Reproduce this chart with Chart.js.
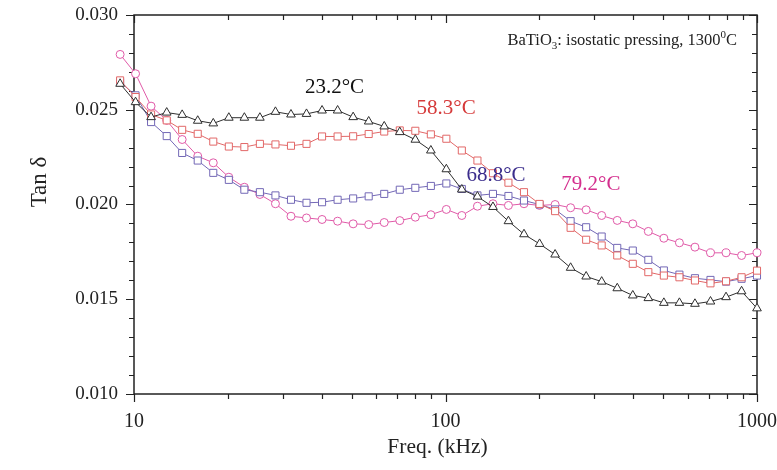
<!DOCTYPE html>
<html>
<head>
<meta charset="utf-8">
<title>Tan delta vs frequency</title>
<script src="https://cdn.jsdelivr.net/npm/chart.js@4.4.1/dist/chart.umd.min.js"></script>
<style>
  html, body { margin: 0; padding: 0; background: #fff; }
  #wrap { width: 777px; height: 470px; }
</style>
</head>
<body>
<div id="wrap"><canvas id="myChart" width="777" height="470"></canvas></div>
<script>
// frequency points (kHz)
const freqs = [9.02, 10.11, 11.34, 12.73, 14.27, 16.01, 17.96, 20.15, 22.60, 25.35,
  28.44, 31.90, 35.78, 40.14, 45.03, 50.51, 56.66, 63.56, 71.30, 79.98,
  89.72, 100.6, 112.8, 126.6, 142.0, 159.2, 178.6, 200.4, 224.8, 252.1,
  282.8, 317.2, 355.9, 399.2, 447.8, 502.3, 563.5, 632.1, 709.0, 795.4, 892.3, 1000];

const tan232 = [0.02637, 0.02540, 0.02461, 0.02485, 0.02473, 0.02442, 0.02428, 0.02458, 0.02458, 0.02458,
  0.02489, 0.02475, 0.02478, 0.02496, 0.02496, 0.02461, 0.02438, 0.02412, 0.02382, 0.02342,
  0.02285, 0.02186, 0.02079, 0.02042, 0.01987, 0.01912, 0.01843, 0.01792, 0.01736, 0.01666,
  0.01620, 0.01593, 0.01558, 0.01520, 0.01506, 0.01481, 0.01481, 0.01476, 0.01488, 0.01511, 0.01542, 0.01452];

const tan583 = [0.02655, 0.02567, 0.02475, 0.02444, 0.02394, 0.02373, 0.02332, 0.02306, 0.02303, 0.02320,
  0.02317, 0.02310, 0.02320, 0.02359, 0.02359, 0.02360, 0.02372, 0.02385, 0.02391, 0.02389,
  0.02370, 0.02347, 0.02285, 0.02232, 0.02165, 0.02115, 0.02065, 0.02003, 0.01965, 0.01877,
  0.01814, 0.01784, 0.01731, 0.01687, 0.01643, 0.01625, 0.01616, 0.01599, 0.01584, 0.01595, 0.01616, 0.01651];

const tan688 = [0.02646, 0.02576, 0.02435, 0.02361, 0.02272, 0.02232, 0.02167, 0.02130, 0.02078, 0.02065,
  0.02048, 0.02025, 0.02009, 0.02012, 0.02025, 0.02032, 0.02043, 0.02056, 0.02078, 0.02088,
  0.02098, 0.02111, 0.02082, 0.02048, 0.02056, 0.02045, 0.02021, 0.02000, 0.01974, 0.01912,
  0.01880, 0.01831, 0.01771, 0.01757, 0.01708, 0.01652, 0.01630, 0.01611, 0.01602, 0.01593, 0.01608, 0.01625];

const tan792 = [0.02792, 0.02690, 0.02519, 0.02444, 0.02343, 0.02255, 0.02220, 0.02144, 0.02091, 0.02053,
  0.02004, 0.01938, 0.01929, 0.01921, 0.01912, 0.01898, 0.01894, 0.01905, 0.01915, 0.01933,
  0.01946, 0.01974, 0.01942, 0.01991, 0.02004, 0.01995, 0.02004, 0.01995, 0.02000, 0.01983,
  0.01972, 0.01942, 0.01916, 0.01898, 0.01858, 0.01822, 0.01798, 0.01775, 0.01745, 0.01745, 0.01731, 0.01745];

// axis ticks
const xTickValues = [10, 20, 30, 40, 50, 60, 70, 80, 90, 100, 200, 300, 400, 500, 600, 700, 800, 900, 1000];
const xTickLabels = [10, 100, 1000];
const yTickValues = [0.010, 0.015, 0.020, 0.025, 0.030];

// curve labels, placed in data coordinates
const curveLabels = ['23.2°C', '58.3°C', '68.8°C', '79.2°C'];
const curveLabelFreq = [44.0, 100.4, 145.2, 293];
const curveLabelTan = [0.02615, 0.02509, 0.02153, 0.02106];
const curveLabelColors = ['#111111', '#d63a3a', '#3b2d8c', '#d42f8e'];

function toPoints(ys) {
    return freqs.map((f, i) => ({ x: f, y: ys[i] }));
}

const serif = "'Liberation Serif', 'DejaVu Serif', serif";

const frameTicks = {
    id: 'frameTicks',
    beforeDatasetsDraw(chart) {
        const { ctx, chartArea: a, scales: { x, y } } = chart;
        // the frame starts at 10 kHz; the first points sit left of it
        const left = Math.round(x.getPixelForValue(10));
        ctx.save();
        ctx.strokeStyle = '#222';
        ctx.lineWidth = 1.5;
        ctx.strokeRect(left, a.top, a.right - left, a.bottom - a.top);

        ctx.lineWidth = 1.2;
        ctx.beginPath();
        xTickValues.forEach(v => {
            const px = Math.round(x.getPixelForValue(v)) + 0.5;
            const len = xTickLabels.includes(v) ? 8 : 5;
            ctx.moveTo(px, a.bottom); ctx.lineTo(px, a.bottom + len);
            ctx.moveTo(px, a.top); ctx.lineTo(px, a.top + len);
        });
        for (let k = 10; k <= 30; k++) {
            const py = Math.round(y.getPixelForValue(k / 1000)) + 0.5;
            const len = k % 5 === 0 ? 8 : 5;
            ctx.moveTo(left, py); ctx.lineTo(left - len, py);
            ctx.moveTo(a.right, py); ctx.lineTo(a.right - len, py);
        }
        ctx.stroke();
        ctx.restore();
    },
    afterDraw(chart) {
        const { ctx, chartArea: a, scales: { x, y } } = chart;
        ctx.save();
        ctx.textAlign = 'center';
        ctx.textBaseline = 'middle';
        ctx.font = '21px ' + serif;
        curveLabels.forEach((t, i) => {
            ctx.fillStyle = curveLabelColors[i];
            ctx.fillText(t, x.getPixelForValue(curveLabelFreq[i]), y.getPixelForValue(curveLabelTan[i]));
        });

        // y axis title
        ctx.fillStyle = '#222';
        ctx.font = '23px ' + serif;
        ctx.translate(40, 182);
        ctx.rotate(-Math.PI / 2);
        ctx.fillText('Tan δ', 0, 0);
        ctx.setTransform(1, 0, 0, 1, 0, 0);

        // inset note: BaTiO3: isostatic pressing, 1300°C
        ctx.textAlign = 'left';
        ctx.textBaseline = 'alphabetic';
        const big = '16.5px ' + serif, small = '11px ' + serif;
        const parts = [
            ['BaTiO', big, 0],
            ['3', small, 4],
            [': isostatic pressing, 1300', big, 0],
            ['0', small, -7],
            ['C', big, 0]
        ];
        let w = 0;
        parts.forEach(p => { ctx.font = p[1]; w += ctx.measureText(p[0]).width; });
        let px = a.right - 20 - w;
        const base = a.top + 30;
        parts.forEach(p => {
            ctx.font = p[1];
            ctx.fillText(p[0], px, base + p[2]);
            px += ctx.measureText(p[0]).width;
        });
        ctx.restore();
    }
};

function lineSet(label, ys, color, style, radius) {
    return {
        label: label,
        data: toPoints(ys),
        borderColor: color,
        borderWidth: 1,
        pointStyle: style,
        pointRadius: radius,
        pointBorderColor: color,
        pointBackgroundColor: '#ffffff',
        pointBorderWidth: 1,
        tension: 0,
        fill: false,
        clip: false
    };
}

const ctx = document.getElementById('myChart').getContext('2d');
new Chart(ctx, {
    type: 'line',
    data: {
        datasets: [
            lineSet('23.2°C', tan232, '#2e2e2e', 'triangle', 5),
            lineSet('58.3°C', tan583, '#e26868', 'rect', 5),
            lineSet('68.8°C', tan688, '#7368b6', 'rect', 5),
            lineSet('79.2°C', tan792, '#e05aa8', 'circle', 4)
        ]
    },
    options: {
        responsive: false,
        animation: false,
        devicePixelRatio: 1,
        layout: { padding: { top: 15, right: 20, left: 0, bottom: 0 } },
        plugins: {
            legend: { display: false },
            tooltip: { enabled: false }
        },
        scales: {
            x: {
                type: 'logarithmic',
                min: 8.88,
                max: 1000,
                grid: { display: false, drawTicks: false, tickLength: 0 },
                border: { display: false },
                afterBuildTicks: scale => {
                    scale.ticks = xTickValues.map(v => ({ value: v }));
                },
                afterFit: scale => {
                    scale.height = 76;
                    scale.paddingLeft = 0;
                    scale.paddingRight = 0;
                },
                ticks: {
                    autoSkip: false,
                    maxRotation: 0,
                    padding: 16,
                    color: '#222',
                    font: { family: serif, size: 20 },
                    callback: v => xTickLabels.includes(v) ? String(v) : ''
                },
                title: {
                    display: true,
                    text: 'Freq. (kHz)',
                    color: '#222',
                    font: { family: serif, size: 21.5 },
                    padding: { top: 0, bottom: 10 }
                }
            },
            y: {
                min: 0.010,
                max: 0.030,
                grid: { display: false, drawTicks: false, tickLength: 0 },
                border: { display: false },
                afterBuildTicks: scale => {
                    scale.ticks = yTickValues.map(v => ({ value: v }));
                },
                afterFit: scale => {
                    scale.width = 118;
                    scale.paddingTop = 0;
                    scale.paddingBottom = 0;
                },
                ticks: {
                    padding: 0,
                    color: '#222',
                    font: { family: serif, size: 19 },
                    callback: v => v.toFixed(3)
                }
            }
        }
    },
    plugins: [frameTicks]
});
</script>
</body>
</html>
